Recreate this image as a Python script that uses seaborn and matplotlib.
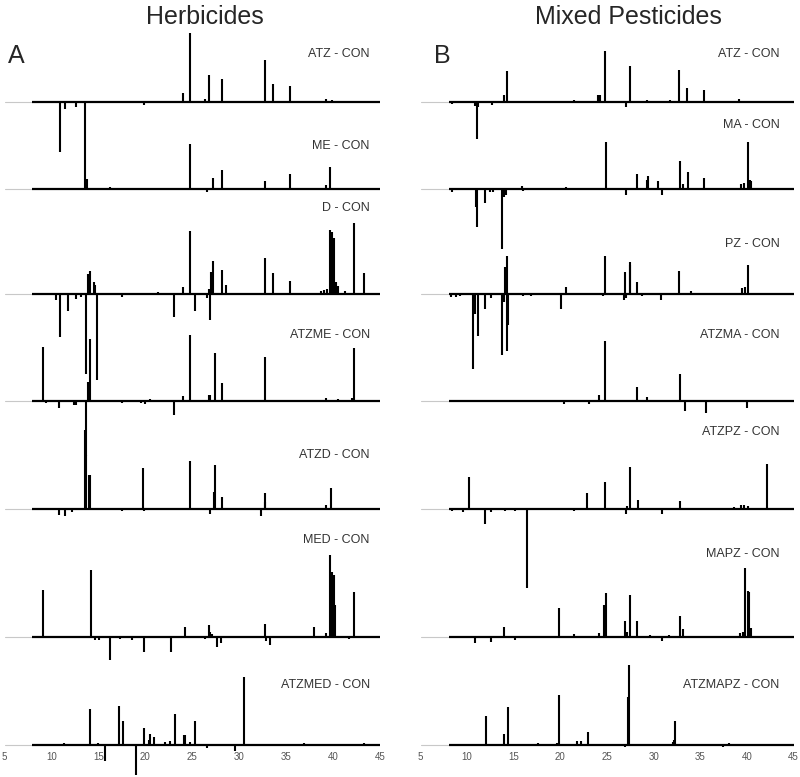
import matplotlib
matplotlib.use("Agg")
import matplotlib.pyplot as plt
import seaborn as sns

# chemical shift (ppm) and difference intensity for each spectrum
# Herbicides
atz_h_ppm = [10.9, 11.43, 12.6, 13.6, 19.9, 24.0, 24.73, 26.4, 26.8, 28.15, 32.7, 33.62, 35.37, 39.27, 39.9]
atz_h_int = [-50, -7, -5, -86, -3, 9, 69, 3, 27, 23, 42, 18, 16, 3, 2]

me_ppm = [13.8, 16.2, 24.73, 26.6, 27.2, 28.15, 32.8, 35.37, 39.3, 39.7, 40.2]
me_int = [10, 2, 45, -3, 11, 19, 8, 15, 4, 22, 1]

d_ppm = [10.5, 10.94, 11.8, 12.57, 13.1, 13.64, 13.9, 14.07, 14.5, 14.67, 14.9, 17.5, 21.3, 23.1,
         24.0, 24.73, 25.3, 26.6, 26.8, 26.9, 27.0, 27.26, 28.15, 28.6, 29.6, 32.7, 33.62, 35.37,
         38.7, 39.0, 39.4, 39.7, 39.85, 40.1, 40.3, 40.55, 41.3, 42.2, 43.3]
d_int = [-6, -43, -17, -5, -3, -80, 20, 23, 12, 9, -86, -3, 2, -23,
         7, 63, -17, -4, 5, -26, 22, 33, 24, 9, 1, 36, 21, 13,
         3, 4, 5, 64, 62, 56, 12, 8, 3, 71, 21]

atzme_ppm = [9.09, 9.45, 10.8, 12.4, 12.6, 13.64, 13.93, 14.14, 17.5, 19.5, 20.0, 20.5, 23.1, 24.0,
             24.73, 26.8, 26.94, 27.47, 28.15, 32.7, 39.24, 40.5, 41.98, 42.2, 43.3]
atzme_int = [54, -2, -7, -4, -4, -55, 19, 62, -2, -2, -3, 2, -14, 5,
             66, 6, 6, 48, 18, 44, 3, 2, 3, 53, 1]

atzd_ppm = [10.8, 11.4, 12.2, 13.6, 13.72, 14.0, 14.14, 17.55, 19.76, 19.85, 20.8, 24.73, 26.9,
            27.33, 27.47, 28.15, 32.3, 32.7, 32.8, 39.24, 39.74]
atzd_int = [-6, -7, -3, 79, 54, 34, 34, -2, 41, -2, 1, 48, -5,
            17, 44, 12, -7, 16, 7, 4, 21]

med_ppm = [9.09, 11.3, 14.17, 14.6, 15.06, 16.2, 17.27, 18.6, 19.83, 22.74, 24.27, 26.4, 26.76, 26.94,
           27.15, 27.6, 28.04, 32.7, 32.83, 33.3, 37.93, 39.24, 39.7, 39.85, 40.06, 40.2, 41.7, 42.2]
med_int = [47, 1, 67, -3, -3, -23, -2, -3, -15, -15, 10, -2, 12, 5,
           3, -10, -6, 13, -4, -8, 10, 4, 82, 65, 62, 32, -2, 45]

atzmed_ppm = [10.05, 11.3, 13.35, 14.07, 15.0, 15.74, 17.16, 17.66, 19.05, 19.83, 20.36, 20.5, 20.93,
              22.14, 22.6, 23.13, 24.1, 24.24, 24.77, 25.34, 26.6, 29.53, 30.46, 36.9, 43.3]
atzmed_int = [1, 2, 1, 36, 2, -16, 39, 24, -30, 17, 5, 11, 8,
              3, 4, 31, 10, 10, 3, 24, -3, -6, 68, 2, 2]

# Mixed pesticides
atz_m_ppm = [8.4, 10.84, 11.09, 11.2, 12.66, 13.95, 14.3, 20.3, 21.45, 24.06, 24.2, 24.8, 27.06, 27.42,
             29.28, 30.3, 31.74, 32.74, 33.6, 35.39, 39.14, 39.6]
atz_m_int = [-2, -4, -37, -5, -3, 7, 31, -1, 2, 7, 7, 51, -5, 36,
             2, 1, 2, 32, 14, 12, 3, 1]

ma_ppm = [8.38, 10.9, 11.09, 11.95, 12.4, 12.8, 13.77, 13.95, 14.2, 15.85, 16.0, 20.6, 24.85, 27.03,
          28.2, 29.24, 29.45, 30.42, 30.85, 32.8, 33.1, 33.64, 35.39, 39.4, 39.7, 40.13, 40.3, 40.45]
ma_int = [-3, -18, -38, -14, -3, -3, -60, -8, -6, 3, -2, 2, 47, -6,
          15, 9, 13, 8, -6, 28, 5, 17, 11, 5, 6, 47, 9, 8]

pz_ppm = [8.3, 8.8, 9.2, 10.66, 10.84, 11.13, 11.95, 12.6, 13.77, 13.95, 14.09, 14.24, 14.27, 14.4,
          16.0, 16.9, 20.03, 20.6, 24.6, 24.77, 26.8, 26.95, 27.0, 27.45, 27.5, 28.24, 28.7, 30.84,
          32.74, 34.0, 39.5, 39.8, 40.13]
pz_int = [-3, -3, -2, -75, -20, -42, -15, -4, -61, -8, 27, 38, -57, -31,
          -2, -2, -15, 7, -2, 38, -6, 22, -4, 32, 29, 12, -2, -6,
          23, 3, 6, 7, 29]

atzma_ppm = [11.38, 12.5, 13.3, 17.8, 18.5, 19.2, 20.4, 23.06, 24.13, 24.8, 28.24, 29.24, 32.8, 33.35,
             35.67, 39.97]
atzma_int = [1, -1, 1, 1, -1, 1, -3, -3, 6, 60, 14, 4, 27, -10, -12, -7]

atzpz_ppm = [8.4, 9.52, 10.2, 11.95, 12.6, 14.06, 15.13, 16.38, 18.4, 21.45, 22.88, 24.77, 27.05,
             27.1, 27.42, 28.28, 30.85, 31.9, 32.85, 38.0, 38.6, 39.42, 39.65, 40.13, 42.21]
atzpz_int = [-2, -3, 32, -15, -3, -2, -2, -79, -1, -2, 16, 27, -5,
             3, 42, 9, -5, 1, 8, 1, 2, 4, 4, 3, 45]

mapz_ppm = [10.84, 12.6, 13.99, 15.1, 17.6, 19.81, 21.45, 24.1, 24.7, 24.85, 26.95, 27.1, 27.42,
            28.24, 29.0, 29.6, 30.85, 31.7, 32.8, 33.1, 39.3, 39.6, 39.78, 40.07, 40.24, 40.45]
mapz_int = [-6, -5, 10, -3, 1, 29, 3, 4, 32, 44, 16, 5, 42,
            16, 1, 2, -4, 2, 21, 8, 4, 5, 69, 46, 45, 9]

atzmapz_ppm = [12.05, 13.95, 14.34, 17.63, 19.6, 19.85, 21.74, 22.24, 22.92, 24.8, 26.9, 27.24, 27.4,
               28.35, 32.03, 32.17, 32.31, 37.45, 38.1, 40.0]
atzmapz_int = [29, 11, 38, 2, 2, 50, 4, 4, 13, 1, -2, 48, 80,
               1, 3, 5, 24, -2, 2, 1]

herb_labels = ["ATZ - CON", "ME - CON", "D - CON", "ATZME - CON", "ATZD - CON", "MED - CON", "ATZMED - CON"]
mix_labels = ["ATZ - CON", "MA - CON", "PZ - CON", "ATZMA - CON", "ATZPZ - CON", "MAPZ - CON", "ATZMAPZ - CON"]
xticks = [5, 10, 15, 20, 25, 30, 35, 40, 45]

herb_spectra = [(atz_h_ppm, atz_h_int), (me_ppm, me_int), (d_ppm, d_int), (atzme_ppm, atzme_int),
                (atzd_ppm, atzd_int), (med_ppm, med_int), (atzmed_ppm, atzmed_int)]
mix_spectra = [(atz_m_ppm, atz_m_int), (ma_ppm, ma_int), (pz_ppm, pz_int), (atzma_ppm, atzma_int),
               (atzpz_ppm, atzpz_int), (mapz_ppm, mapz_int), (atzmapz_ppm, atzmapz_int)]

# layout: baseline of each trace (stacked offsets) and label height above it
baselines = [643, 556, 451, 344, 236, 108, 0]
herb_label_dy = [48, 43, 86, 66, 54, 97, 60]
mix_label_dy = [48, 64, 50, 66, 77, 83, 60]

sns.set_theme(style="white")
plt.rcParams["font.family"] = ["Liberation Sans", "DejaVu Sans"]

fig = plt.figure(figsize=(8, 7.77), dpi=100)
ax_l = fig.add_axes([4.5 / 800, 32 / 777, 375.5 / 800, 745 / 777])
ax_r = fig.add_axes([420.5 / 800, 32 / 777, 373 / 800, 745 / 777])


def draw_panel(ax, spectra, labels, label_dy, start, label_x):
    for (ppm, inten), base, lab, dy in zip(spectra, baselines, labels, label_dy):
        ax.plot([5, start], [base, base], color="#c8c8c8", lw=0.8, clip_on=False)
        ax.plot([start, 45], [base, base], color="black", lw=1.6, clip_on=False,
                solid_capstyle="butt")
        ax.vlines(ppm, base, [base + v for v in inten], color="black", lw=1.5, clip_on=False)
        ax.text(label_x, base + dy, lab, ha="right", va="center", fontsize=9, color="#333333")
    ax.set_xlim(5, 45)
    ax.set_ylim(0, 745)
    ax.set_xticks(xticks)
    ax.set_xticklabels([str(t) for t in xticks])
    ax.set_yticks([])
    ax.tick_params(axis="x", length=0, pad=5, labelsize=7, labelcolor="#555555")
    sns.despine(ax=ax, left=True, bottom=True)
    ax.patch.set_alpha(0)


draw_panel(ax_l, herb_spectra, herb_labels, herb_label_dy, 7.9, 43.9)
draw_panel(ax_r, mix_spectra, mix_labels, mix_label_dy, 8.1, 43.5)

fig.text(205 / 800, 1 - 17 / 777, "Herbicides", ha="center", va="center", fontsize=18)
fig.text(628 / 800, 1 - 17 / 777, "Mixed Pesticides", ha="center", va="center", fontsize=18)
fig.text(8 / 800, 1 - 56 / 777, "A", ha="left", va="center", fontsize=18)
fig.text(434 / 800, 1 - 56 / 777, "B", ha="left", va="center", fontsize=18)

fig.savefig("out.png", dpi=100)
